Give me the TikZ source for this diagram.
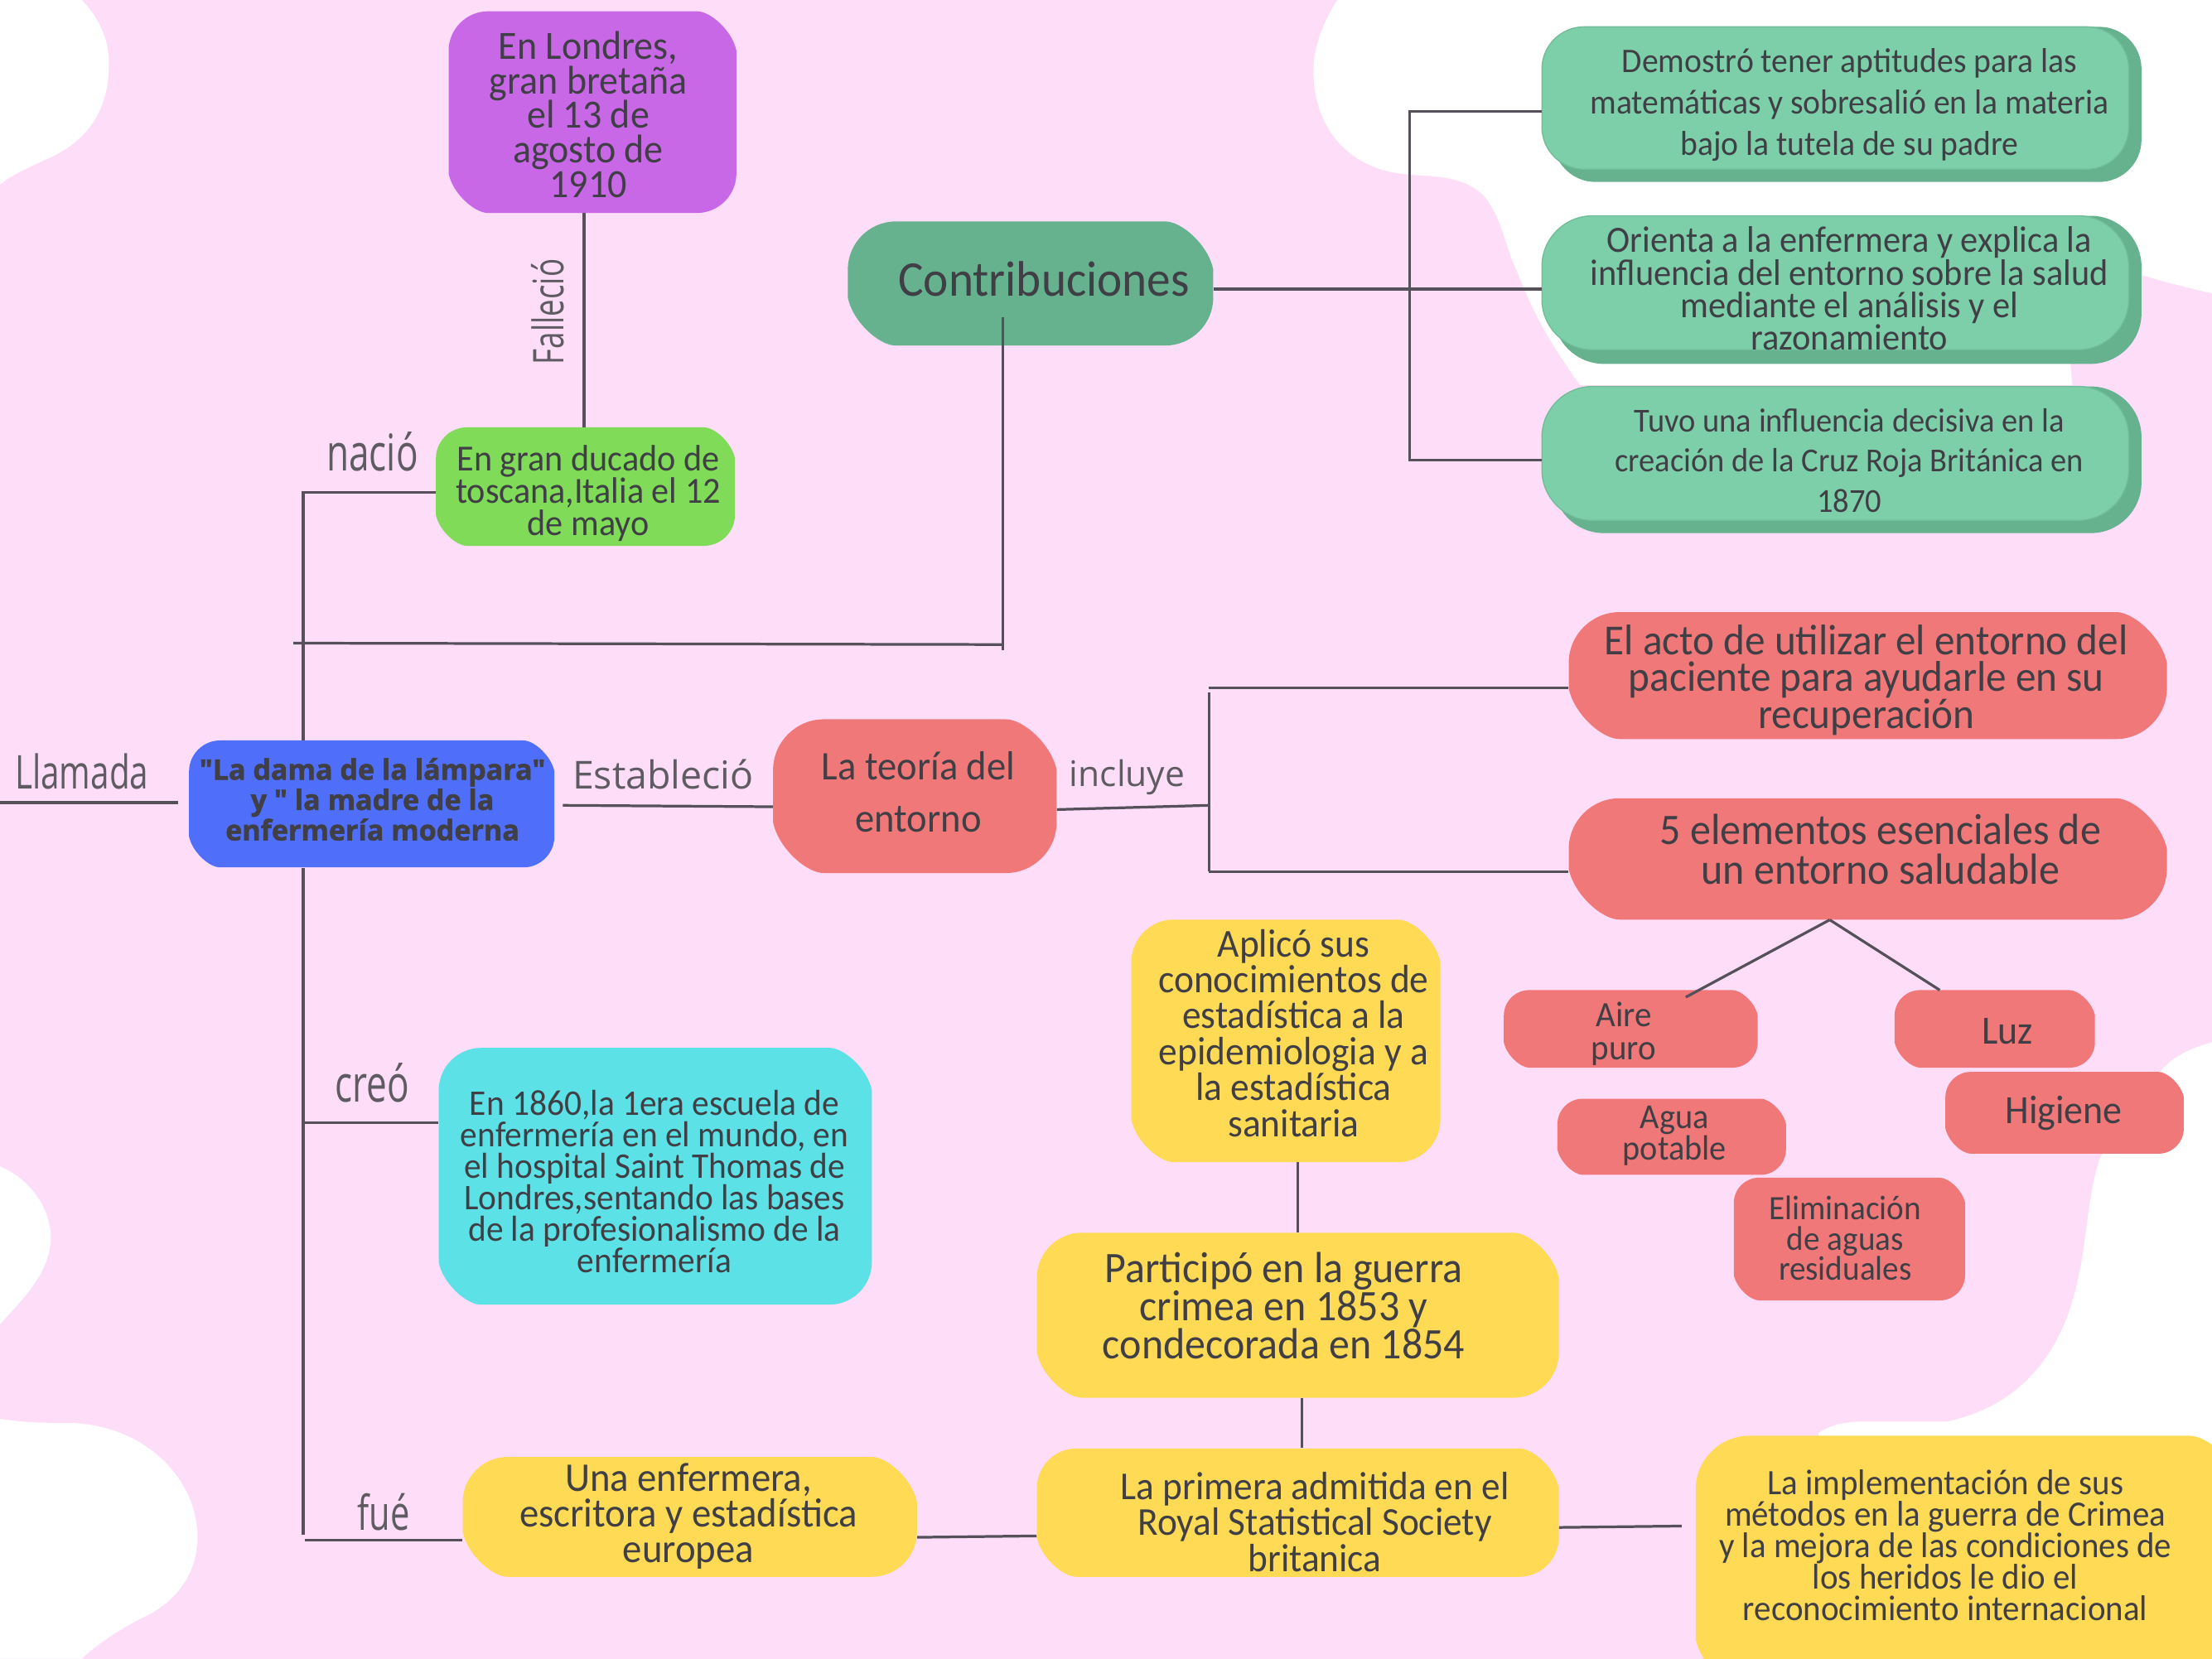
\documentclass[tikz,border=0pt]{standalone}
\usepackage{fontspec}
\usepackage{array}
\setmainfont[FakeStretch=0.95]{Carlito}
\newfontfamily\thinlab[FakeStretch=0.72]{Open Sans}
\newfontfamily\widelab{Open Sans}
\newfontfamily\heavylab[BoldFeatures={FakeBold=1.5}]{Open Sans}
\definecolor{pinkbg}{HTML}{FDDDF8}
\definecolor{inkc}{HTML}{3F3F45}
\definecolor{linec}{HTML}{55505A}
\definecolor{labc}{HTML}{5F5B62}
\definecolor{purp}{HTML}{C868E6}
\definecolor{lime}{HTML}{7FDB58}
\definecolor{grnl}{HTML}{7DCFA9}
\definecolor{grnd}{HTML}{66B18E}
\definecolor{grne}{HTML}{6FBD99}
\definecolor{bluec}{HTML}{4F6EFA}
\definecolor{redc}{HTML}{F07878}
\definecolor{yelc}{HTML}{FFDA55}
\definecolor{cyanc}{HTML}{5CE1E6}
\tikzset{
  conn/.style={draw=linec,line width=1.9pt},
  lab/.style={text=labc,inner sep=0pt,anchor=center},
  lightpanel/.style={grnl,draw=grne,line width=.8pt}
}
\newlength\dxl
\newlength\dyl
\newsavebox\cellbox
\newcolumntype{C}{>{\begin{lrbox}{\cellbox}}c<{\end{lrbox}\smash{\usebox\cellbox}}}
% x0 y0 x1 y1 r colour: rounded top-left and bottom-right, chamfered top-right and bottom-left
\newcommand{\panel}[6]{%
  \fill[#6] (#1+#5,#2) -- (#3-#5,#2)
    .. controls (#3-#5*.65,#2) and (#3-#5*.1,#2+#5*.5) .. (#3,#2+#5)
    -- (#3,#4-#5) .. controls (#3,#4-#5*.45) and (#3-#5*.45,#4) .. (#3-#5,#4)
    -- (#1+#5,#4) .. controls (#1+#5*.65,#4) and (#1+#5*.1,#4-#5*.5) .. (#1,#4-#5)
    -- (#1,#2+#5) .. controls (#1,#2+#5*.45) and (#1+#5*.45,#2) .. (#1+#5,#2) -- cycle;
  \def\bxa{#1}\def\bya{#2}\def\bxb{#3}\def\byb{#4}%
}
% same with four round corners
\newcommand{\roundpanel}[6]{%
  \fill[#6,rounded corners=#5pt] (#1,#2) rectangle (#3,#4);
  \def\bxa{#1}\def\bya{#2}\def\bxb{#3}\def\byb{#4}%
}
% [font] name cx cy size leading : node fills the last panel, its text is offset to (cx,cy)
\newcommand{\cardtext}[6][]{%
  \pgfmathsetlength\dxl{2*(#3-(\bxa+\bxb)/2)}%
  \pgfmathsetlength\dyl{2*(#4+4-(\bya+\byb)/2)}%
  \node[inner sep=0pt,text=inkc,minimum width=\bxb pt-\bxa pt,minimum height=\byb pt-\bya pt,
        font=\fontsize{#5}{#6}\selectfont#1] (#2) at ({(\bxa+\bxb)/2},{(\bya+\byb)/2})
    {\vbox to 0pt{\vss\vskip\dyl\hbox{\hspace*{\dxl}\cardbody}\vss}};
}
\newcommand{\setbody}[1]{\def\cardbody{\begin{tabular}{@{}C@{}}#1\end{tabular}}}
\begin{document}
\begin{tikzpicture}[x=1pt,y=-1pt]
\useasboundingbox (0,0) rectangle (1568,1176);
\fill[pinkbg] (0,0) rectangle (1568,1176);
% white background shapes
\fill[white] (0,0) -- (58,0) .. controls (75,18) and (78,35) .. (77,50) .. controls (76,85) and (55,103) .. (35,112) .. controls (18,120) and (8,124) .. (0,131) -- cycle;
\fill[white] (948,0) .. controls (935,20) and (931,38) .. (931,50) .. controls (931,90) and (955,118) .. (992,123) .. controls (1010,126) and (1035,122) .. (1052,139) .. controls (1065,155) and (1065,170) .. (1076,194) .. controls (1088,225) and (1100,245) .. (1120,273) -- (1469,273) -- (1466,240) .. controls (1480,225) and (1505,205) .. (1518,195) .. controls (1535,200) and (1550,204) .. (1568,208) -- (1568,0) -- cycle;
\fill[white] (1568,739) .. controls (1545,745) and (1535,755) .. (1532,759) -- (1489,820) .. controls (1480,845) and (1479,880) .. (1474,902) .. controls (1465,950) and (1440,995) .. (1380,1008) -- (1318,1008) .. controls (1305,1008) and (1295,1012) .. (1289,1016) -- (1289,1176) -- (1568,1176) -- cycle;
\fill[white] (0,827) .. controls (22,836) and (36,858) .. (36,877) .. controls (36,903) and (15,922) .. (0,939) -- cycle;
\fill[white] (0,1006) .. controls (20,1009) and (35,1009) .. (53,1009) .. controls (105,1012) and (140,1050) .. (140,1090) .. controls (140,1120) and (120,1138) .. (103,1146) .. controls (85,1155) and (70,1165) .. (58,1176) -- (0,1176) -- cycle;
% boxes
\panel{601}{157}{860}{245}{34}{grnd}
\setbody{Contribuciones}\cardtext{contrib}{740}{199}{35.4}{36}
\panel{318}{8}{522}{151}{28}{purp}
\setbody{En Londres,\\gran bretaña\\el 13 de\\agosto de\\1910}\cardtext{purple}{417}{82}{28.4}{24.5}
\panel{309}{303}{521}{387}{22}{lime}
\setbody{En gran ducado de\\toscana,Italia el 12\\de mayo}\cardtext{birth}{417}{348}{26.1}{23}
\roundpanel{1101}{30}{1518}{129}{30}{grnd}
\roundpanel{1100}{19}{1518}{110}{30}{grnd}
\roundpanel{1093}{19}{1509}{120}{30}{lightpanel}
\setbody{Demostró tener aptitudes para las\\matemáticas y sobresalió en la materia\\bajo la tutela de su padre}\cardtext{g1}{1311}{71}{24.5}{29.5}
\roundpanel{1101}{165}{1518}{258}{36}{grnd}
\roundpanel{1100}{153}{1518}{240}{36}{grnd}
\roundpanel{1093}{153}{1509}{248}{36}{lightpanel}
\setbody{Orienta a la enfermera y explica la\\influencia del entorno sobre la salud\\mediante el análisis y el\\razonamiento}\cardtext{g2}{1311}{205}{26.2}{23}
\roundpanel{1101}{284}{1518}{378}{36}{grnd}
\roundpanel{1100}{274}{1518}{360}{36}{grnd}
\roundpanel{1093}{274}{1509}{369}{36}{lightpanel}
\setbody{Tuvo una influencia decisiva en la\\creación de la Cruz Roja Británica en\\1870}\cardtext{g3}{1311}{325}{23.8}{28.5}
\panel{134}{525}{393}{615}{22}{bluec}
\setbody{"La dama de la lámpara"\\y " la madre de la\\enfermería moderna}\cardtext[\heavylab\bfseries]{blue}{264}{566}{20}{21.5}
\panel{548}{510}{749}{619}{36}{redc}
\setbody{La teoría del\\entorno}\cardtext{teoria}{651}{560}{28.8}{37}
\panel{1112}{434}{1536}{524}{36}{redc}
\setbody{El acto de utilizar el entorno del\\paciente para ayudarle en su\\recuperación}\cardtext{acto}{1323}{481}{30.4}{26}
\panel{1112}{566}{1536}{652}{36}{redc}
\setbody{5 elementos esenciales de\\un entorno saludable}\cardtext{cinco}{1333}{603}{30.9}{28}
\panel{1066}{702}{1246}{757}{18}{redc}
\setbody{Aire\\puro}\cardtext{aire}{1151}{731}{25.3}{23}
\panel{1343}{702}{1485}{757}{18}{redc}
\setbody{Luz}\cardtext{luz}{1423}{731}{28.4}{27}
\panel{1379}{760}{1548}{818}{18}{redc}
\setbody{Higiene}\cardtext{higiene}{1463}{787}{28.4}{27}
\panel{1104}{779}{1266}{833}{18}{redc}
\setbody{Agua\\potable}\cardtext{agua}{1187}{803}{24.9}{22}
\panel{1229}{835}{1393}{922}{18}{redc}
\setbody{Eliminación\\de aguas\\residuales}\cardtext{elim}{1308}{878}{24.2}{21.5}
\panel{802}{652}{1021}{824}{30}{yelc}
\setbody{Aplicó sus\\conocimientos de\\estadística a la\\epidemiologia y a\\la estadística\\sanitaria}\cardtext{aplico}{917}{733}{28.1}{25.5}
\panel{735}{874}{1105}{991}{32}{yelc}
\setbody{Participó en la guerra\\crimea en 1853 y\\condecorada en 1854}\cardtext{guerra}{910}{927}{30.9}{27}
\panel{735}{1027}{1105}{1118}{28}{yelc}
\setbody{La primera admitida en el\\Royal Statistical Society\\britanica}\cardtext{royal}{932}{1079.5}{28}{25.5}
\panel{328}{1033}{650}{1118}{32}{yelc}
\setbody{Una enfermera,\\escritora y estadística\\europea}\cardtext{una}{488}{1073.5}{28.9}{25.5}
\panel{1202}{1018}{1590}{1200}{38}{yelc}
\setbody{La implementación de sus\\métodos en la guerra de Crimea\\y la mejora de las condiciones de\\los heridos le dio el\\reconocimiento internacional}\cardtext{impl}{1379}{1096}{25.3}{22.3}
\panel{311}{743}{618}{925}{30}{cyanc}
\setbody{En 1860,la 1era escuela de\\enfermería en el mundo, en\\el hospital Saint Thomas de\\Londres,sentando las bases\\de la profesionalismo de la\\enfermería}\cardtext{escuela}{464}{838}{25.6}{22.4}
% connectors
\coordinate (lamEnd) at (0,569);
\coordinate (cross) at (208,456);
\coordinate (forkA) at (857,491);
\coordinate (forkB) at (857,618);
\coordinate (forkC) at (999,79);
\coordinate (forkD) at (999,326);
\draw[conn] (purple.south -| 414,0) -- (birth.north -| 414,0);
\draw[conn] (birth.west |- 0,349) -- (215,349) -- (blue.north -| 215,0);
\draw[conn] (blue.south -| 215,0) -- (215,1088);
\draw[conn] (216,1092) -- (una.west |- 0,1092);
\draw[conn] (215,796) -- (escuela.west |- 0,796);
\draw[conn] (cross) -- (711,457);
\draw[conn] (711,225) -- (711,461);
\draw[conn] (lamEnd) -- (126,569);
\draw[conn] (399,571) -- (teoria.west |- 0,572);
\draw[conn] (teoria.east |- 0,574) -- (857,571);
\draw[conn] (forkA) -- (forkB);
\draw[conn] (857,487.5) -- (acto.west |- 0,487.5);
\draw[conn] (forkB) -- (cinco.west |- 0,618);
\draw[conn] (contrib.east |- 0,205) -- (g2.west |- 0,205);
\draw[conn] (g1.west |- forkC) -- (forkC) -- (forkD) -- (g3.west |- forkD);
\draw[conn] (cinco.south -| 1297,0) -- (1195,707);
\draw[conn] (cinco.south -| 1297,0) -- (1375,702);
\draw[conn] (aplico.south -| 920,0) -- (guerra.north -| 920,0);
\draw[conn] (guerra.south -| 923,0) -- (royal.north -| 923,0);
\draw[conn] (una.east |- 0,1090) -- (royal.west |- 0,1089);
\draw[conn] (royal.east |- 0,1083) -- (1192,1082);
% connector labels
\node[lab,font=\thinlab\fontsize{33}{33}\selectfont] (lLlam) at (58,547) {Llamada};
\node[lab,font=\thinlab\fontsize{30}{30}\selectfont,rotate=90] (lFal) at (388,221) {Falleció};
\node[lab,font=\thinlab\fontsize{36}{36}\selectfont] (lNac) at (264,320) {nació};
\node[lab,font=\thinlab\fontsize{36}{36}\selectfont] (lCre) at (264,768) {creó};
\node[lab,font=\thinlab\fontsize{34}{34}\selectfont] (lFue) at (272,1072) {fué};
\node[lab,font=\widelab\fontsize{27.3}{27.3}\selectfont] (lEst) at (470,549) {Estableció};
\node[lab,font=\widelab\fontsize{25}{25}\selectfont] (lInc) at (799,551) {incluye};
\end{tikzpicture}
\end{document}
